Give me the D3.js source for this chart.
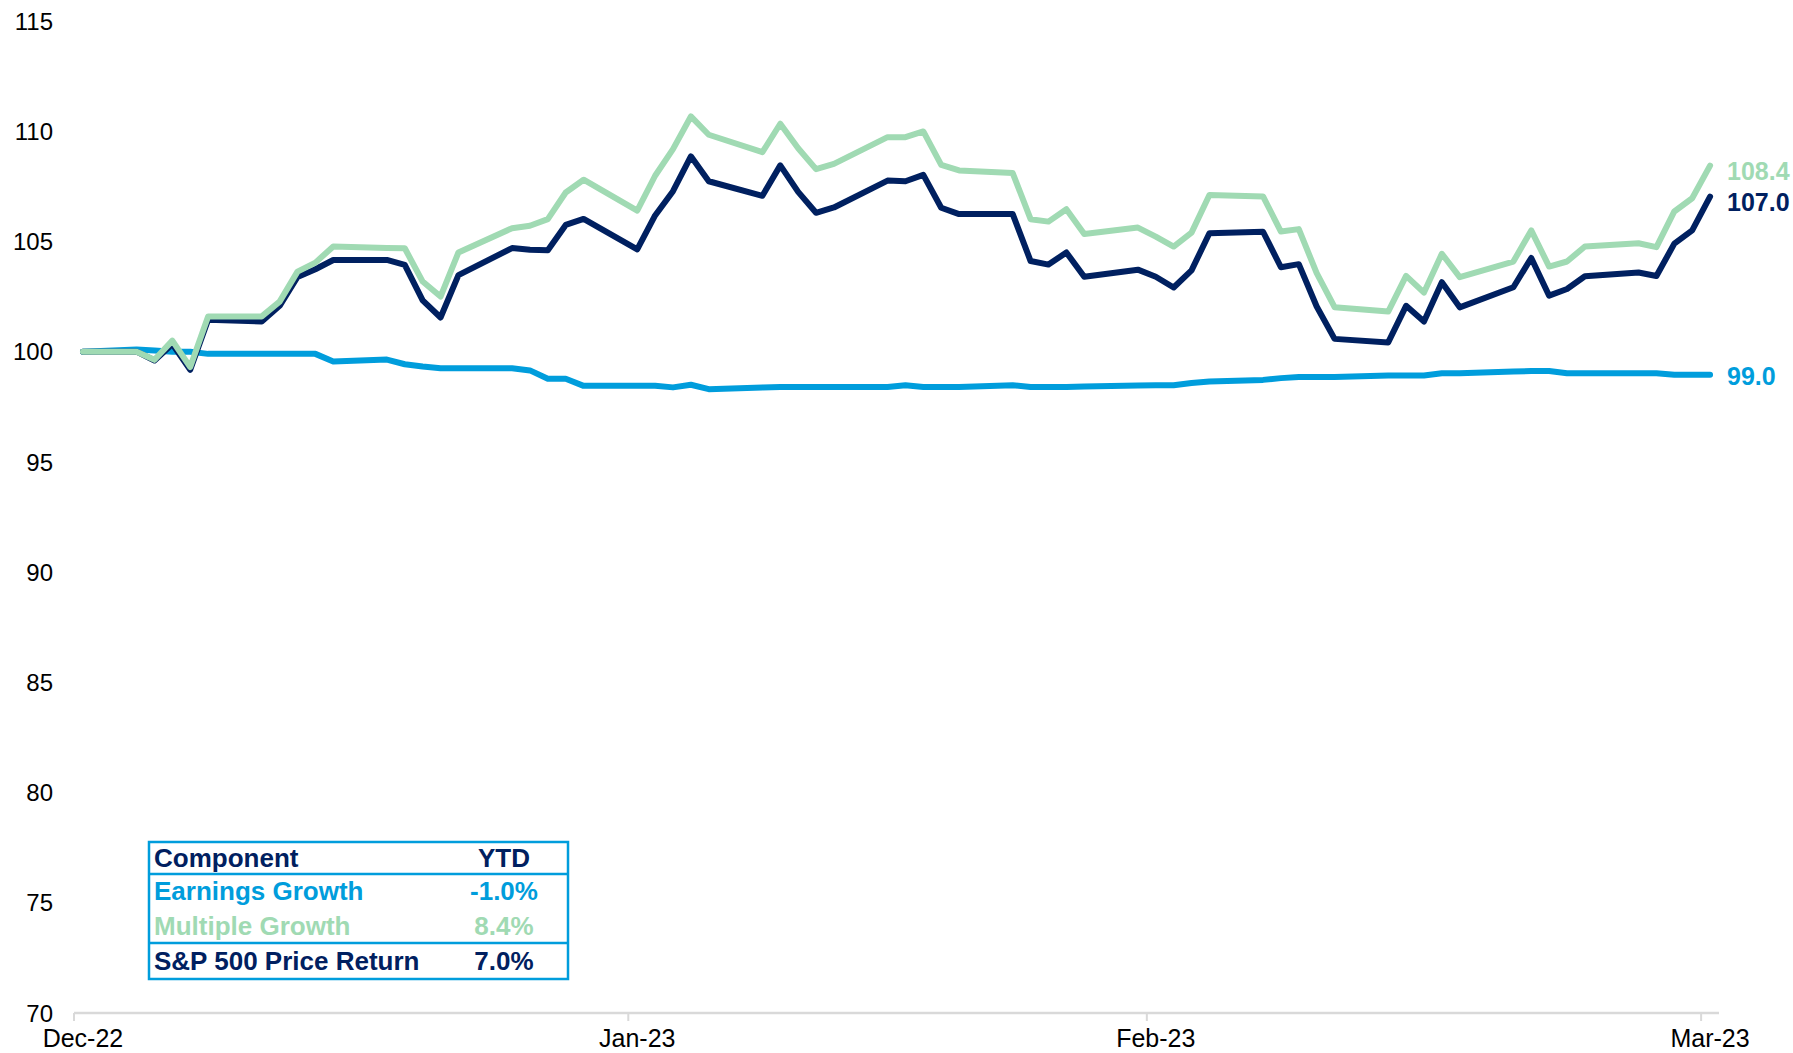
<!DOCTYPE html>
<html>
<head>
<meta charset="utf-8">
<script src="https://cdn.jsdelivr.net/npm/d3@7"></script>
<style>
  body { margin: 0; background: #fff; }
  text { font-family: "Liberation Sans", Arial, sans-serif; }
</style>
</head>
<body>
<script>
// trading days Q1 2023 (holidays carry previous value)
const dates = [
  '2022-12-30','2023-01-02','2023-01-03','2023-01-04','2023-01-05','2023-01-06',
  '2023-01-09','2023-01-10','2023-01-11','2023-01-12','2023-01-13',
  '2023-01-16','2023-01-17','2023-01-18','2023-01-19','2023-01-20',
  '2023-01-23','2023-01-24','2023-01-25','2023-01-26','2023-01-27',
  '2023-01-30','2023-01-31','2023-02-01','2023-02-02','2023-02-03',
  '2023-02-06','2023-02-07','2023-02-08','2023-02-09','2023-02-10',
  '2023-02-13','2023-02-14','2023-02-15','2023-02-16','2023-02-17',
  '2023-02-20','2023-02-21','2023-02-22','2023-02-23','2023-02-24',
  '2023-02-27','2023-02-28','2023-03-01','2023-03-02','2023-03-03',
  '2023-03-06','2023-03-07','2023-03-08','2023-03-09','2023-03-10',
  '2023-03-13','2023-03-14','2023-03-15','2023-03-16','2023-03-17',
  '2023-03-20','2023-03-21','2023-03-22','2023-03-23','2023-03-24',
  '2023-03-27','2023-03-28','2023-03-29','2023-03-30','2023-03-31'
];

const sp500 = [
  100.00, 100.00, 99.60, 100.35, 99.18, 101.45,
  101.37, 102.08, 103.39, 103.74, 104.16,
  104.16, 103.94, 102.33, 101.55, 103.47,
  104.70, 104.62, 104.60, 105.75, 106.02,
  104.64, 106.18, 107.28, 108.86, 107.73,
  107.07, 108.45, 107.25, 106.30, 106.54,
  107.76, 107.73, 108.02, 106.53, 106.24,
  106.24, 104.11, 103.95, 104.50, 103.40,
  103.72, 103.40, 102.91, 103.69, 105.37,
  105.44, 103.83, 103.97, 102.05, 100.58,
  100.42, 102.08, 101.37, 103.15, 102.01,
  102.92, 104.25, 102.54, 102.84, 103.42,
  103.59, 103.43, 104.90, 105.50, 107.03
];

const earnings = [
  100.00, 100.10, 100.05, 100.00, 100.00, 99.90,
  99.90, 99.90, 99.90, 99.90, 99.55,
  99.64, 99.43, 99.33, 99.25, 99.25,
  99.25, 99.15, 98.77, 98.77, 98.45,
  98.45, 98.45, 98.38, 98.50, 98.30,
  98.38, 98.40, 98.40, 98.40, 98.40,
  98.40, 98.48, 98.40, 98.40, 98.40,
  98.48, 98.40, 98.40, 98.40, 98.42,
  98.46, 98.48, 98.48, 98.58, 98.65,
  98.72, 98.80, 98.85, 98.85, 98.85,
  98.92, 98.92, 98.92, 99.02, 99.02,
  99.10, 99.12, 99.12, 99.02, 99.02,
  99.02, 99.02, 98.95, 98.95, 98.95
];

const multiple = [
  100.00, 100.00, 99.63, 100.50, 99.30, 101.60,
  101.60, 102.27, 103.63, 104.04, 104.77,
  104.70, 104.69, 103.18, 102.50, 104.50,
  105.60, 105.71, 106.01, 107.22, 107.80,
  106.40, 107.98, 109.19, 110.67, 109.84,
  109.05, 110.34, 109.23, 108.28, 108.52,
  109.73, 109.73, 109.99, 108.47, 108.22,
  108.10, 106.01, 105.90, 106.46, 105.34,
  105.63, 105.22, 104.77, 105.40, 107.11,
  107.04, 105.45, 105.56, 103.56, 102.02,
  101.82, 103.44, 102.68, 104.44, 103.38,
  104.09, 105.50, 103.86, 104.09, 104.77,
  104.92, 104.74, 106.36, 106.96, 108.44
];

const endLabels = ['99.0', '107.0', '108.4'];
const yTicks = [70, 75, 80, 85, 90, 95, 100, 105, 110, 115];
const tickDates = ['2022-12-30', '2023-01-30', '2023-02-28', '2023-03-31'];
const tickLabels = ['Dec-22', 'Jan-23', 'Feb-23', 'Mar-23'];

const tableHead = ['Component', 'YTD'];
const tableNames = ['Earnings Growth', 'Multiple Growth', 'S&P 500 Price Return'];
const tableValues = ['-1.0%', '8.4%', '7.0%'];

const navy = '#002060', blue = '#009DDC', green = '#A0DAB3';

const width = 1793, height = 1053;
const parse = d3.utcParse('%Y-%m-%d');
const halfDay = 12 * 3600 * 1000;

const svg = d3.select('body').append('svg')
  .attr('width', width)
  .attr('height', height);

const x = d3.scaleUtc()
  .domain([new Date(+parse('2022-12-30') - halfDay), new Date(+parse('2023-03-31') + halfDay)])
  .range([74, 1719]);

const y = d3.scaleLinear()
  .domain([70, 115])
  .range([1013, 21]);

// y labels, no axis line
svg.append('g')
  .selectAll('text')
  .data(yTicks)
  .enter()
  .append('text')
  .attr('x', 53)
  .attr('y', d => y(d))
  .attr('dy', '0.36em')
  .attr('text-anchor', 'end')
  .attr('font-size', 24)
  .attr('fill', '#000')
  .text(d => d);

// x axis
const xAxis = svg.append('g');
xAxis.append('line')
  .attr('x1', x.range()[0]).attr('x2', x.range()[1])
  .attr('y1', 1013).attr('y2', 1013)
  .attr('stroke', '#d9d9d9').attr('stroke-width', 2.5);

// ticks sit on the day boundary, labels on the day centre
xAxis.selectAll('.tick')
  .data(tickDates)
  .enter()
  .append('line')
  .attr('x1', d => x(new Date(+parse(d) - halfDay)))
  .attr('x2', d => x(new Date(+parse(d) - halfDay)))
  .attr('y1', 1013).attr('y2', 1021)
  .attr('stroke', '#d9d9d9').attr('stroke-width', 2);

xAxis.selectAll('.lbl')
  .data(tickDates)
  .enter()
  .append('text')
  .attr('x', d => x(parse(d)))
  .attr('y', 1047)
  .attr('text-anchor', 'middle')
  .attr('font-size', 25)
  .attr('fill', '#000')
  .text((d, i) => tickLabels[i]);

// lines
const series = [
  { values: earnings, color: blue, label: endLabels[0], shift: 1 },
  { values: sp500, color: navy, label: endLabels[1], shift: 5 },
  { values: multiple, color: green, label: endLabels[2], shift: 5 }
];

const line = d3.line()
  .x((d, i) => x(parse(dates[i])))
  .y(d => y(d));

series.forEach(s => {
  svg.append('path')
    .datum(s.values)
    .attr('d', line)
    .attr('fill', 'none')
    .attr('stroke', s.color)
    .attr('stroke-width', 6)
    .attr('stroke-linejoin', 'round')
    .attr('stroke-linecap', 'round');

  const last = s.values[s.values.length - 1];
  svg.append('text')
    .attr('x', x(parse(dates[dates.length - 1])) + 17)
    .attr('y', y(last) + s.shift)
    .attr('dy', '0.36em')
    .attr('font-size', 25)
    .attr('font-weight', 'bold')
    .attr('fill', s.color)
    .text(s.label);
});

// table
const tx = 149, tw = 419, ty = 842;
const rowH = [32, 34, 35, 36];
const rowTop = [ty, ty + 32, ty + 66, ty + 101];
const rowColors = [navy, blue, green, navy];
const names = [tableHead[0]].concat(tableNames);
const vals = [tableHead[1]].concat(tableValues);
const tbl = svg.append('g');

names.forEach((n, i) => {
  tbl.append('text')
    .attr('x', tx + 5)
    .attr('y', rowTop[i] + rowH[i] / 2)
    .attr('dy', '0.36em')
    .attr('font-size', 26)
    .attr('font-weight', 'bold')
    .attr('fill', rowColors[i])
    .text(n);
  tbl.append('text')
    .attr('x', 504)
    .attr('y', rowTop[i] + rowH[i] / 2)
    .attr('dy', '0.36em')
    .attr('text-anchor', 'middle')
    .attr('font-size', 26)
    .attr('font-weight', 'bold')
    .attr('fill', rowColors[i])
    .text(vals[i]);
});

tbl.append('rect')
  .attr('x', tx).attr('y', ty)
  .attr('width', tw).attr('height', 137)
  .attr('fill', 'none')
  .attr('stroke', blue).attr('stroke-width', 2.5);

[rowTop[1], rowTop[3]].forEach(yy => {
  tbl.append('line')
    .attr('x1', tx).attr('x2', tx + tw)
    .attr('y1', yy).attr('y2', yy)
    .attr('stroke', blue).attr('stroke-width', 2.5);
});
</script>
</body>
</html>
